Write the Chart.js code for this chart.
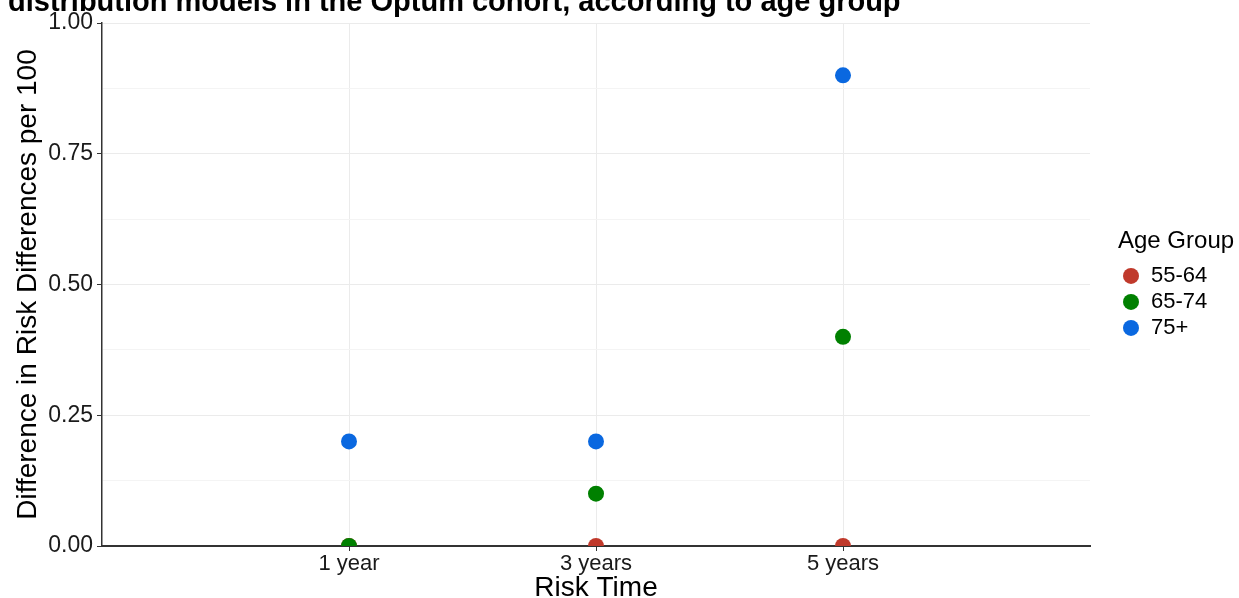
<!DOCTYPE html>
<html><head><meta charset="utf-8">
<script src="https://cdn.jsdelivr.net/npm/chart.js@4"></script>
<style>html,body{margin:0;padding:0;background:#fff;overflow:hidden}#wrap{width:1239px;height:598px}</style>
</head><body><div id="wrap"><canvas id="c" width="1239" height="598"></canvas></div>
<script>
const titleText = 'distribution models in the Optum cohort, according to age group';
const categories = ['1 year', '3 years', '5 years'];
const categoryPositions = [1, 2, 3];
const seriesNames = ['55-64', '65-74', '75+'];
const values5564 = [0, 0, 0];
const values6574 = [0, 0.1, 0.4];
const values75 = [0.2, 0.2, 0.9];
const yTickValues = [0, 0.25, 0.5, 0.75, 1.0];
const colors = ['#C0392B', '#008000', '#0A68E0'];

const FONT = '"Liberation Sans", Arial, Helvetica, sans-serif';
const toPts = vals => vals.map((v, i) => ({x: categoryPositions[i], y: v}));
const allSeries = [values5564, values6574, values75];

const datasets = allSeries.map((vals, i) => ({
  label: seriesNames[i],
  data: toPts(vals),
  backgroundColor: colors[i],
  borderColor: colors[i],
  borderWidth: 0,
  pointRadius: 8,
  pointHoverRadius: 8,
  showLine: false,
  clip: 0,
  order: 3 - i
}));

const titlePlugin = {
  id: 'cutTitle',
  afterDraw(chart) {
    const ctx = chart.ctx;
    ctx.save();
    ctx.font = 'bold 29px ' + FONT;
    ctx.fillStyle = '#000';
    ctx.textBaseline = 'alphabetic';
    ctx.textAlign = 'left';
    ctx.fillText(titleText, 8, 11);
    ctx.restore();
  }
};

// widen the legend box so its title is not clipped
const legendWidthPlugin = {
  id: 'legendWidth',
  afterInit(chart) {
    const lg = chart.legend;
    if (!lg || lg._wrapped) return;
    const orig = lg.fit;
    lg.fit = function() { orig.call(this); this.width = 121; };
    lg._wrapped = true;
  }
};

const isMajor = v => yTickValues.some(t => Math.abs(t - v) < 1e-6);

new Chart(document.getElementById('c'), {
  type: 'scatter',
  data: {datasets},
  plugins: [titlePlugin, legendWidthPlugin],
  options: {
    responsive: false,
    animation: false,
    layout: {padding: {top: 23, left: 0, right: 0, bottom: 0}},
    scales: {
      x: {
        type: 'linear',
        min: 0, max: 4,
        afterBuildTicks(s) { s.ticks = categoryPositions.map(v => ({value: v})); },
        afterFit(s) { s.height = 52; },
        ticks: {
          callback: v => categories[categoryPositions.indexOf(v)] ?? '',
          font: {family: FONT, size: 22},
          color: '#1a1a1a',
          padding: 0,
          maxRotation: 0,
          autoSkip: false
        },
        grid: {color: '#ebebeb', lineWidth: 1, tickColor: '#333', tickLength: 5},
        border: {color: '#333', width: 2},
        title: {display: true, text: 'Risk Time', color: '#000', font: {family: FONT, size: 28, lineHeight: 1}, padding: {top: 0, bottom: -4}}
      },
      y: {
        min: 0, max: 1,
        afterBuildTicks(s) {
          const t = [];
          for (let k = 0; k <= 8; k++) t.push({value: k / 8});
          s.ticks = t;
        },
        afterFit(s) { s.width = 102; },
        ticks: {
          callback: v => isMajor(v) ? v.toFixed(2) : '',
          font: {family: FONT, size: 23},
          color: '#1a1a1a',
          padding: 4,
          autoSkip: false
        },
        grid: {
          color: c => isMajor(c.tick.value) ? '#ebebeb' : '#f4f4f4',
          lineWidth: 1,
          tickColor: c => isMajor(c.tick.value) ? '#333' : 'rgba(0,0,0,0)',
          tickLength: 5
        },
        border: {color: '#333', width: 1.5},
        title: {display: true, text: 'Difference in Risk Differences per 100', color: '#000', font: {family: FONT, size: 28, lineHeight: 1}, padding: {top: 14, bottom: 0}}
      },
      spacer: {
        type: 'linear',
        position: 'right',
        display: true,
        grid: {display: false, drawTicks: false},
        ticks: {display: false},
        border: {display: false},
        afterFit(s) { s.width = 28; }
      }
    },
    plugins: {
      legend: {
        display: true,
        position: 'right',
        align: 'center',
        fullSize: false,
        title: {display: true, text: 'Age Group', color: '#000', position: 'start', font: {family: FONT, size: 24}, padding: {top: 3, bottom: 3}},
        labels: {
          usePointStyle: true,
          pointStyle: 'circle',
          boxWidth: 18,
          boxHeight: 11.3,
          padding: 4,
          color: '#000',
          font: {family: FONT, size: 22},
          sort: (a, b) => a.datasetIndex - b.datasetIndex
        }
      },
      tooltip: {enabled: false}
    }
  }
});
</script>
</body></html>
